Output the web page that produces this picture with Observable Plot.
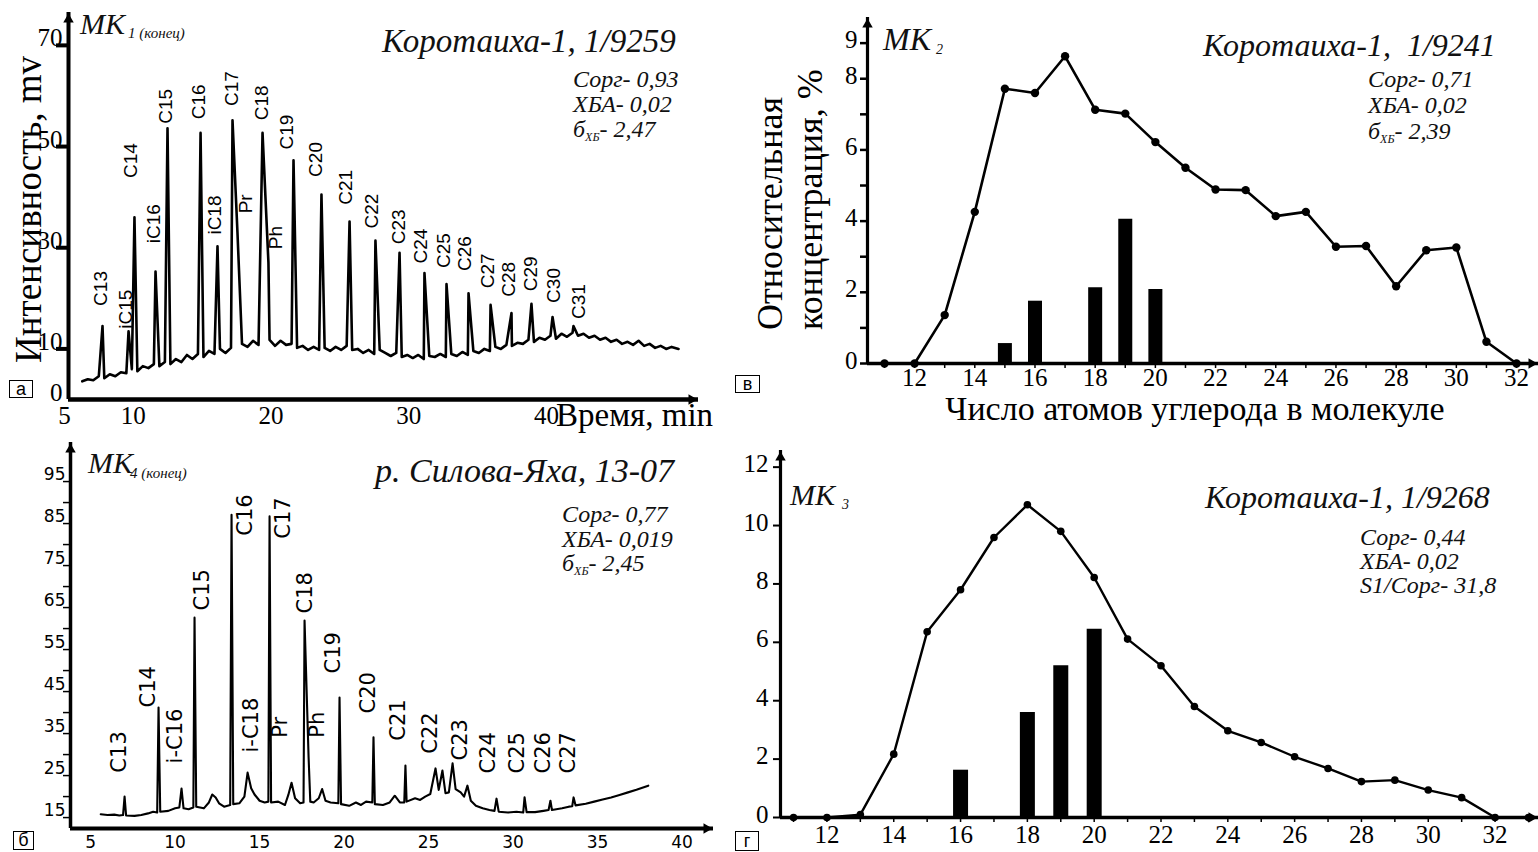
<!DOCTYPE html>
<html><head><meta charset="utf-8">
<script src="https://cdn.jsdelivr.net/npm/d3@7"></script>
<script src="https://cdn.jsdelivr.net/npm/@observablehq/plot@0.6"></script>
<style>
html,body{margin:0;padding:0;background:#fff;}
#page{position:relative;width:1538px;height:852px;overflow:hidden;background:#fff;}
.abs{position:absolute;white-space:pre;color:#111;}
.box{position:absolute;border:1px solid #000;font-family:"Liberation Sans",Arial,sans-serif;font-size:18px;text-align:center;box-sizing:border-box;color:#000;}
.pl{position:absolute;}
</style></head><body><div id="page"></div>
<script>
// ---------------- DATA ----------------
// Panel а: chromatogram (time, mV)
const baselineA = [[6.0,3.6],[6.4,4.0],[6.8,3.8],[7.2,4.6],[7.6,4.2],[8.0,5.0],[8.4,4.6],[8.8,5.4],[9.2,5.2],[9.6,6.0],[10.0,5.6],[10.4,6.6],[10.8,6.2],[11.2,7.0],[11.6,6.6],[12.0,7.4],[12.4,7.0],[12.8,8.0],[13.2,7.4],[13.6,8.8],[14.0,8.0],[14.4,9.0],[14.8,8.4],[15.2,9.6],[15.6,9.0],[16.0,10.0],[16.4,9.2],[16.8,10.2],[17.6,11.0],[18.0,10.4],[18.4,11.6],[18.8,10.8],[19.6,11.8],[20.0,10.6],[20.4,11.6],[20.8,10.8],[21.2,11.0],[21.6,10.2],[22.0,10.6],[22.4,9.8],[22.8,10.4],[23.2,9.8],[23.6,10.2],[24.0,9.6],[24.4,10.4],[24.8,9.8],[25.2,10.6],[25.6,9.8],[26.0,10.0],[26.4,9.2],[26.8,9.8],[27.2,9.0],[27.6,9.8],[28.0,9.2],[28.4,8.6],[28.8,9.2],[29.2,8.4],[29.6,8.8],[30.0,8.2],[30.4,8.8],[30.8,8.0],[31.2,8.6],[31.6,8.4],[32.0,9.0],[32.4,8.4],[32.8,9.0],[33.2,8.6],[33.6,9.4],[34.0,8.8],[34.4,9.6],[34.8,9.2],[35.2,10.0],[35.6,9.6],[36.0,10.4],[36.4,10.0],[36.8,10.8],[37.2,10.6],[37.6,11.2],[38.0,11.0],[38.4,11.8],[38.8,11.4],[39.2,12.2],[39.6,11.8],[40.0,12.6],[40.4,12.0],[40.8,13.0],[41.2,12.4],[41.6,13.2],[42.0,12.6],[42.4,13.0],[42.8,12.2],[43.2,12.6],[43.6,11.8],[44.0,12.2],[44.4,11.4],[44.8,11.8],[45.2,11.0],[45.6,11.4],[46.0,10.8],[46.4,11.6],[46.8,10.6],[47.2,11.0],[47.6,10.2],[48.0,10.6],[48.4,10.0],[48.8,10.4],[49.3,10.0]];
const peakNamesA   = ["C13","iC15","C14","iC16","C15","C16","iC18","C17","Pr","C18","Ph","C19","C20","C21","C22","C23","C24","C25","C26","C27","C28","C29","C30","C31"];
const peakTimesA   = [7.47,9.36,9.79,11.32,12.19,14.59,15.82,16.91,17.27,19.09,19.52,21.34,23.37,25.41,27.29,29.04,30.85,32.45,34.05,35.65,37.17,38.62,40.15,41.67];
const peakHeightsA = [14.5,13.5,36,25.3,53.6,52.7,30.3,55.2,33,52.7,27,47.3,40.5,35.2,31.4,29,25,22.8,21,18.7,17.1,18.9,16.3,14.5];
const labelTimesA  = [7.32,9.14,9.50,11.17,12.04,14.44,15.6,16.84,17.85,19.02,20.03,20.83,22.94,25.12,27.0,28.97,30.56,32.23,33.76,35.43,36.95,38.55,40.22,42.04];
const labelLevelsA = [18.5,14.0,43.8,30.9,54.5,55.4,32.6,58.0,36.8,55.2,29.7,49.4,44.0,38.5,33.8,30.7,26.9,26.0,25.4,22.0,20.3,21.4,19.1,15.9];
const yTicksA = [10,30,50,70];
const yLabelsA = [0,10,30,50,70];
const xLabelsA = [5,10,20,30,40];

// Panel б: chromatogram
const baselineB = [[5.9,15.8],[6.3,15.6],[6.7,15.7],[7.0,15.5],[7.22,15.6],[7.4,15.5],[7.9,15.4],[8.3,15.6],[8.7,16.0],[9.0,16.4],[9.24,16.2],[9.42,16.4],[9.9,16.6],[10.3,17.2],[10.55,17.4],[10.8,17.2],[11.1,17.0],[11.38,17.4],[11.55,17.6],[12.0,17.2],[12.3,18.6],[12.5,20.5],[12.7,19.8],[12.9,18.4],[13.2,17.6],[13.56,18.0],[13.74,18.2],[14.1,18.4],[14.4,20.0],[14.8,22.0],[15.0,20.5],[15.3,19.0],[15.6,18.6],[15.82,18.8],[15.98,18.6],[16.4,18.8],[16.8,18.0],[17.0,20.4],[17.4,19.6],[17.7,18.4],[17.9,18.6],[18.3,18.8],[18.5,18.6],[18.8,19.6],[19.0,21.8],[19.2,19.0],[19.5,18.6],[19.96,18.4],[20.12,18.2],[20.6,17.8],[21.0,18.6],[21.3,18.0],[21.6,18.8],[21.97,18.6],[22.12,18.2],[22.6,18.0],[23.0,18.6],[23.3,20.2],[23.6,18.6],[23.86,18.6],[24.0,18.8],[24.5,19.6],[24.8,19.2],[25.1,20.0],[25.4,20.6],[25.9,21.6],[26.3,20.8],[26.5,21.0],[26.9,21.8],[27.2,21.0],[27.4,20.0],[27.8,19.0],[28.1,17.8],[28.5,17.2],[28.9,16.8],[29.2,16.6],[29.45,16.4],[30.0,16.2],[30.5,16.4],[30.9,16.2],[31.1,16.3],[31.6,16.3],[32.1,16.6],[32.4,16.8],[32.6,16.8],[33.2,17.2],[33.6,17.6],[33.8,17.7],[34.0,17.9],[34.6,18.3],[35.1,18.8],[35.6,19.3],[36.1,19.8],[36.6,20.4],[37.1,21.0],[37.6,21.6],[38.3,22.6]];
const peakTimesB   = [7.31,9.32,10.68,11.45,13.64,14.59,15.89,17.19,17.96,18.2,20.03,22.04,23.93,25.71,26.12,26.72,27.6,29.32,30.98,32.51,33.88];
const peakHeightsB = [20.0,41.2,21.9,62.6,87.1,25.7,86.7,23.3,61.9,29.3,43.6,34.1,27.4,26.7,26.2,27.9,22.6,19.5,19.8,19.0,19.8];
const labelNamesB  = ["C13","C14","i-C16","C15","C16","i-C18","C17","Pr","C18","Ph","C19","C20","C21","C22","C23","C24","C25","C26","C27"];
const labelTimesB  = [7.01,8.73,10.33,11.92,14.47,14.82,16.72,16.54,18.02,18.73,19.67,21.75,23.52,25.41,27.19,28.85,30.56,32.1,33.58];
const labelLevelsB = [25.7,41.2,27.9,64.3,82.1,30.5,81.4,34.0,63.6,34.0,49.3,39.8,33.3,30.2,28.6,25.5,25.5,25.5,25.5];
const yTicksB = [15,20,25,30,35,40,45,50,55,60,65,70,75,80,85,90,95];
const yLabelsB = [15,25,35,45,55,65,75,85,95];
const xLabelsB = [5,10,15,20,25,30,35,40];

// Panel в: distribution
const carbonsV = [11,12,13,14,15,16,17,18,19,20,21,22,23,24,25,26,27,28,29,30,31,32];
const concV    = [0,0,1.36,4.26,7.72,7.6,8.63,7.13,7.02,6.22,5.5,4.89,4.87,4.14,4.26,3.28,3.3,2.17,3.18,3.26,0.61,0];
const barCarbonsV = [15,16,18,19,20];
const barConcV    = [0.56,1.75,2.13,4.05,2.08];
const yTicksV = [0,1,2,3,4,5,6,7,8,9];
const yLabelsV = [0,2,4,6,8,9];
const xTicksV = [11,12,13,14,15,16,17,18,19,20,21,22,23,24,25,26,27,28,29,30,31,32];
const xLabelsV = [12,14,16,18,20,22,24,26,28,30,32];

// Panel г: distribution
const carbonsG = [11,12,13,14,15,16,17,18,19,20,21,22,23,24,25,26,27,28,29,30,31,32,33];
const concG    = [0,0,0.1,2.17,6.36,7.8,9.59,10.71,9.8,8.22,6.11,5.2,3.8,2.97,2.57,2.08,1.68,1.23,1.28,0.94,0.68,0,0];
const barCarbonsG = [16,18,19,20];
const barConcG    = [1.62,3.6,5.2,6.45];
const yTicksG = [0,2,4,6,8,10,12];
const xTicksG = [11,12,13,14,15,16,17,18,19,20,21,22,23,24,25,26,27,28,29,30,31,32,33];
const xLabelsG = [12,14,16,18,20,22,24,26,28,30,32];

// ---------------- HELPERS ----------------
const SERIF = "'Liberation Serif', 'Times New Roman', serif";
const SANS = "'Liberation Sans', Arial, sans-serif";
const VERD = "'DejaVu Sans', Verdana, sans-serif";
const page = document.getElementById("page");
const SVGSTYLE = "background:transparent;overflow:visible;max-width:none;";

function mount(svg, left, top) {
  const d = document.createElement("div");
  d.className = "pl"; d.style.left = left + "px"; d.style.top = top + "px";
  d.appendChild(svg); page.appendChild(d);
}
function note(html, x, baseline, size, opt = {}) {
  const d = document.createElement("div");
  d.className = "abs";
  d.style.left = x + "px";
  d.style.top = (baseline - 0.84 * size) + "px";
  d.style.fontSize = size + "px";
  d.style.lineHeight = "1";
  d.style.fontFamily = opt.family || SERIF;
  d.style.fontStyle = opt.italic === false ? "normal" : "italic";
  if (opt.css) Object.assign(d.style, opt.css);
  d.innerHTML = html;
  page.appendChild(d);
  return d;
}
function box(letter, x, y, w, h) {
  const d = document.createElement("div");
  d.className = "box";
  Object.assign(d.style, {left: x + "px", top: y + "px", width: w + "px", height: h + "px", lineHeight: (h - 2) + "px"});
  d.textContent = letter;
  page.appendChild(d);
}
function rotTitle(html, left, bottom, size, lh) {
  const d = document.createElement("div");
  d.className = "abs";
  Object.assign(d.style, {left: left + "px", top: bottom + "px", fontFamily: SERIF, fontSize: size + "px",
    lineHeight: lh + "px", transformOrigin: "0 0", transform: "rotate(-90deg)", color: "#000"});
  d.innerHTML = html;
  page.appendChild(d);
}
function axes(xd, yd, sw) {
  return [
    Plot.ruleX([xd[0]], {y1: yd[0], y2: yd[1], stroke: "#000", strokeWidth: sw}),
    Plot.ruleY([yd[0]], {x1: xd[0], x2: xd[1], stroke: "#000", strokeWidth: sw + 0.5}),
    Plot.dot([0], {x: () => xd[0], y: () => yd[1], symbol: "triangle2", r: 5, fill: "#000", stroke: "none", dy: 7}),
    Plot.dot([0], {x: () => xd[1], y: () => yd[0], symbol: "triangle2", r: 5, fill: "#000", stroke: "none", rotate: 90, dx: -7})
  ];
}
function chrom(base, times, heights) {
  return base.map(([t, v]) => ({t, v}))
    .concat(times.map((t, i) => ({t, v: heights[i]})))
    .sort((a, b) => a.t - b.t);
}
function labels(names, times, levels) {
  return names.map((name, i) => ({name, t: times[i], v: levels[i]}));
}

// ---------------- PANEL а ----------------
const xdA = [5, 50.75], ydA = [0, 76.5];
const plotA = Plot.plot({
  width: 730, height: 430, marginLeft: 68, marginRight: 32, marginTop: 12, marginBottom: 31,
  style: SVGSTYLE,
  x: {domain: xdA}, y: {domain: ydA},
  marks: [
    Plot.line(chrom(baselineA, peakTimesA, peakHeightsA), {x: "t", y: "v", stroke: "#000", strokeWidth: 2.6, strokeLinejoin: "round"}),
    Plot.text(labels(peakNamesA, labelTimesA, labelLevelsA), {x: "t", y: "v", text: "name", rotate: -90, textAnchor: "start", fontFamily: SANS, fontSize: 19, fill: "#000"}),
    Plot.axisY({ticks: yTicksA, tickSize: 12, tickFormat: () => "", strokeWidth: 4, label: null}),
    Plot.axisY({ticks: yLabelsA, tickSize: 0, tickPadding: 6, dy: -7, fontFamily: SERIF, fontSize: 25, label: null}),
    Plot.axisX({ticks: xLabelsA, tickSize: 0, tickPadding: 7, dx: -4, fontFamily: SERIF, fontSize: 25, label: null}),
    ...axes(xdA, ydA, 4)
  ]
});
mount(plotA, 0, 0);

// ---------------- PANEL б ----------------
const xdB = [4.11, 42.16], ydB = [12.4, 104.3];
const plotB = Plot.plot({
  width: 730, height: 422, marginLeft: 70, marginRight: 17, marginTop: 12, marginBottom: 24,
  style: SVGSTYLE,
  x: {domain: xdB}, y: {domain: ydB},
  marks: [
    Plot.line(chrom(baselineB, peakTimesB, peakHeightsB), {x: "t", y: "v", stroke: "#000", strokeWidth: 2.1, strokeLinejoin: "round"}),
    Plot.text(labels(labelNamesB, labelTimesB, labelLevelsB), {x: "t", y: "v", text: "name", rotate: -90, textAnchor: "start", fontFamily: VERD, fontSize: 21, fill: "#000"}),
    Plot.axisY({ticks: yTicksB, tickSize: 7, tickFormat: () => "", strokeWidth: 1.5, label: null}),
    Plot.axisY({ticks: yLabelsB, tickSize: 0, tickPadding: 5, dy: -7, fontFamily: VERD, fontSize: 17, label: null}),
    Plot.axisX({ticks: xLabelsB, tickSize: 0, tickPadding: 7, dx: 5, fontFamily: VERD, fontSize: 17, label: null}),
    ...axes(xdB, ydB, 3.5)
  ]
});
mount(plotB, 0, 430);

// ---------------- PANEL в ----------------
const xdV = [10.435, 32.73], ydV = [0, 9.72];
const plotV = Plot.plot({
  width: 808, height: 440, marginLeft: 137, marginRight: 0, marginTop: 17, marginBottom: 77,
  style: SVGSTYLE,
  x: {domain: xdV}, y: {domain: ydV},
  marks: [
    Plot.ruleX(barCarbonsV.map((c, i) => ({c, v: barConcV[i]})), {x: "c", y1: 0, y2: "v", stroke: "#000", strokeWidth: 14}),
    Plot.line(carbonsV.map((c, i) => ({c, v: concV[i]})), {x: "c", y: "v", stroke: "#000", strokeWidth: 2.6}),
    Plot.dot(carbonsV.map((c, i) => ({c, v: concV[i]})), {x: "c", y: "v", r: 4.2, fill: "#000"}),
    Plot.axisY({ticks: yTicksV, tickSize: 7, tickFormat: () => "", strokeWidth: 2.5, label: null}),
    Plot.axisY({ticks: yLabelsV, tickSize: 0, tickPadding: 10, dy: -3, fontFamily: SERIF, fontSize: 25, label: null}),
    Plot.axisX({ticks: xTicksV, tickSize: 5, tickFormat: () => "", strokeWidth: 1.5, label: null}),
    Plot.axisX({ticks: xLabelsV, tickSize: 0, tickPadding: 5, fontFamily: SERIF, fontSize: 25, label: null}),
    ...axes(xdV, ydV, 3.2)
  ]
});
mount(plotV, 730, 0);

// ---------------- PANEL г ----------------
const xdG = [10.61, 33.3], ydG = [0, 12.57];
const plotG = Plot.plot({
  width: 808, height: 412, marginLeft: 50, marginRight: 0, marginTop: 10, marginBottom: 35,
  style: SVGSTYLE,
  x: {domain: xdG}, y: {domain: ydG},
  marks: [
    Plot.ruleX(barCarbonsG.map((c, i) => ({c, v: barConcG[i]})), {x: "c", y1: 0, y2: "v", stroke: "#000", strokeWidth: 15}),
    Plot.line(carbonsG.map((c, i) => ({c, v: concG[i]})), {x: "c", y: "v", stroke: "#000", strokeWidth: 2.4}),
    Plot.dot(carbonsG.map((c, i) => ({c, v: concG[i]})), {x: "c", y: "v", r: 3.8, fill: "#000"}),
    Plot.axisY({ticks: yTicksG, tickSize: 7, tickFormat: () => "", strokeWidth: 2, label: null}),
    Plot.axisY({ticks: yTicksG, tickSize: 0, tickPadding: 12, dy: -3, fontFamily: SERIF, fontSize: 25, label: null}),
    Plot.axisX({ticks: xTicksG, tickSize: 5, tickFormat: () => "", strokeWidth: 1.5, label: null}),
    Plot.axisX({ticks: xLabelsG, tickSize: 0, tickPadding: 8, fontFamily: SERIF, fontSize: 25, label: null}),
    ...axes(xdG, ydG, 3.2)
  ]
});
mount(plotG, 730, 440);

// ---------------- TEXT ANNOTATIONS ----------------
const SUBXB = '<span style="font-size:12px;vertical-align:-4px">ХБ</span>';
// а
note("МК", 80, 34, 30);
note("1 (конец)", 128, 39, 15);
note("Коротаиха-1, 1/9259", 382, 53, 33);
note("Сорг- 0,93", 573, 87, 24);
note("ХБА- 0,02", 573, 112, 24);
note("б" + SUBXB + "- 2,47", 573, 137, 24);
rotTitle("Интенсивность, mv", 10, 363, 37, 37);
note("Время, min", 556, 427, 33, {italic: false, css: {color: "#000"}});
box("а", 9, 380, 24, 18);
// б
note("МК", 88, 473, 30);
note("4 (конец)", 130, 479, 15);
note("р. Силова-Яха, 13-07", 375, 483, 34);
note("Сорг- 0,77", 562, 522, 24);
note("ХБА- 0,019", 562, 547, 24);
note("б" + SUBXB + "- 2,45", 562, 571, 24);
box("б", 13, 831, 21, 19);
// в
note("МК", 883, 50, 32);
note("2", 936, 55, 14);
note("Коротаиха-1,  1/9241", 1203, 56, 32);
note("Сорг- 0,71", 1368, 87, 24);
note("ХБА- 0,02", 1368, 113, 24);
note("б" + SUBXB + "- 2,39", 1368, 139, 24);
rotTitle("Относительная<br>концентрация, %", 750, 330, 36, 40);
note("Число атомов углерода в молекуле", 795, 421, 34, {italic: false, css: {width: "800px", textAlign: "center", color: "#000"}});
box("в", 735, 375, 25, 18);
// г
note("МК", 790, 505, 30);
note("3", 842, 510, 14);
note("Коротаиха-1, 1/9268", 1205, 508, 32);
note("Сорг- 0,44", 1360, 545, 24);
note("ХБА- 0,02", 1360, 569, 24);
note("S1/Сорг- 31,8", 1360, 593, 24);
box("г", 735, 831, 24, 20);
</script></body></html>
